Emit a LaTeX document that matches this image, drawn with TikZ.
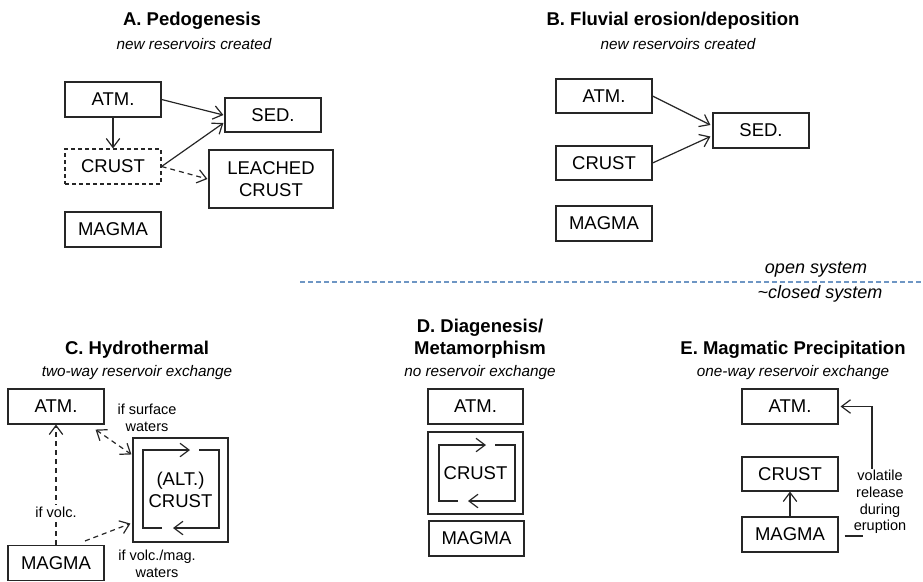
\documentclass[tikz,border=0pt]{standalone}
\usepackage{fontspec}
\setmainfont{Liberation Sans}
\usetikzlibrary{arrows.meta,calc}

\begin{document}
\begin{tikzpicture}[x=1pt,y=-1pt,
  box/.style={draw=black!85,line width=1.1pt,minimum width=96pt,minimum height=35pt,
    inner sep=0pt,align=center,font=\fontsize{18.5}{22}\selectfont},
  ttl/.style={font=\bfseries\fontsize{18.5}{22}\selectfont,align=center,inner sep=0pt},
  sub/.style={font=\itshape\fontsize{15.3}{18}\selectfont,inner sep=0pt},
  sys/.style={font=\itshape\fontsize{18}{20}\selectfont,inner sep=0pt},
  lbl/.style={font=\fontsize{14.5}{16.7}\selectfont,align=center,inner sep=1pt},
  barb/.tip={Straight Barb[length=9pt,width=13.5pt,line width=1.2pt]},
  tip/.style={-barb},
  conn/.style={line width=1.2pt,draw=black!85,tip},
  dconn/.style={conn,dash pattern=on 5pt off 4pt},
  loopline/.style={line width=1.2pt,draw=black!85},
]
\useasboundingbox (0,0) rectangle (923,581);

% ---------- A. Pedogenesis ----------
\node[ttl] (tA) at (192,21) {A. Pedogenesis};
\node[sub] (sA) at (194,44) {new reservoirs created};
\node[box] (aATM) at (113,99.5) {ATM.};
\node[box,minimum height=34pt] (aSED) at (273,115) {SED.};
\node[box,dashed,dash pattern=on 4pt off 3pt] (aCRU) at (113,166.5) {CRUST};
\node[box,minimum width=124pt,minimum height=58pt] (aLEA) at (271,179) {LEACHED\\CRUST};
\node[box] (aMAG) at (113,229.5) {MAGMA};
\draw[conn] (aATM.east) -- ([xshift=-1pt]aSED.west);
\draw[conn] (aATM.south) -- (aCRU.north);
\draw[conn] (aCRU.east) -- ([yshift=-8pt,xshift=-1pt]aSED.west);
\draw[dconn] (aCRU.east) -- ([xshift=-1pt]aLEA.west);

% ---------- B. Fluvial erosion/deposition ----------
\node[ttl] (tB) at (673,21) {B. Fluvial erosion/deposition};
\node[sub] (sB) at (678,44) {new reservoirs created};
\node[box,minimum height=34pt] (bATM) at (604,96) {ATM.};
\node[box,minimum height=34pt] (bCRU) at (604,163) {CRUST};
\node[box] (bMAG) at (604,223.5) {MAGMA};
\node[box] (bSED) at (761,130.5) {SED.};
\draw[conn] (bATM.east) -- ([yshift=5.5pt,xshift=-2pt]bSED.west);
\draw[conn] (bCRU.east) -- ([yshift=-6pt,xshift=-2pt]bSED.west);

% ---------- open / closed system divider ----------
\coordinate (divL) at (300,282);
\coordinate (divR) at (923,282);
\draw[color={rgb,255:red,110;green,150;blue,196},line width=1.2pt,dash pattern=on 4.5pt off 3.5pt] (divL) -- (divR);
\node[sys] (open) at (816,270) {open system};
\node[sys] (closed) at (820,294) {\textasciitilde closed system};

% ---------- C. Hydrothermal ----------
\node[ttl] (tC) at (137,350) {C. Hydrothermal};
\node[sub] (sC) at (137,373) {two-way reservoir exchange};
\node[box] (cATM) at (56,406.5) {ATM.};
\node[box,minimum width=95pt,minimum height=104pt] (cCRU) at (180.5,490) {(ALT.)\\CRUST};
\node[box] (cMAG) at (56,563) {MAGMA};
\draw[dconn] (cMAG.north) -- node[lbl,fill=white,pos=0.27,inner sep=2pt] (lvolc) {if volc.} (cATM.south);
\draw[dconn,barb-barb] ([xshift=-9pt,yshift=-5pt]cATM.south east) -- ([yshift=-17pt,xshift=-1pt]cCRU.north west);
\draw[dconn] ([xshift=29pt,yshift=4pt]cMAG.north) -- ([yshift=19pt,xshift=-2pt]cCRU.south west);
\node[lbl] (lsurf) at (147,418) {if surface\\waters};
\node[lbl] (lmag) at (157,563.5) {if volc./mag.\\waters};
% internal cycling inside the crust box
\draw[loopline,tip] (162,528) -- (143,528) -- (143,450) -- (190,450);
\draw[loopline,tip] (199,450) -- (219,450) -- (219,528) -- (173,528);

% ---------- D. Diagenesis / Metamorphism ----------
\node[ttl] (tD) at (480,339) {D. Diagenesis/\\Metamorphism};
\node[sub] (sD) at (480,373) {no reservoir exchange};
\node[box,minimum width=95pt] (dATM) at (475.5,406.5) {ATM.};
\node[box,minimum width=95pt,minimum height=82pt] (dCRU) at (475.5,473) {CRUST};
\node[box,minimum width=95pt] (dMAG) at (476.5,538.5) {MAGMA};
\draw[loopline,tip] (458,501) -- (439,501) -- (439,445) -- (486,445);
\draw[loopline,tip] (495,445) -- (515,445) -- (515,501) -- (468,501);

% ---------- E. Magmatic Precipitation ----------
\node[ttl] (tE) at (793,350) {E. Magmatic Precipitation};
\node[sub] (sE) at (793,373) {one-way reservoir exchange};
\node[box] (eATM) at (790,406.5) {ATM.};
\node[box,minimum height=34pt] (eCRU) at (790,474) {CRUST};
\node[box] (eMAG) at (790,534.5) {MAGMA};
\draw[conn] (eMAG.north) -- (eCRU.south);
\node[lbl] (eVol) at (880,502) {volatile\\release\\during\\eruption};
\draw[loopline] ([xshift=6pt,yshift=-1.5pt]eMAG.east) -- ++(18pt,0);
\draw[conn] ([xshift=-8pt]eVol.north) |- ([xshift=2pt]eATM.east);
\end{tikzpicture}
\end{document}
